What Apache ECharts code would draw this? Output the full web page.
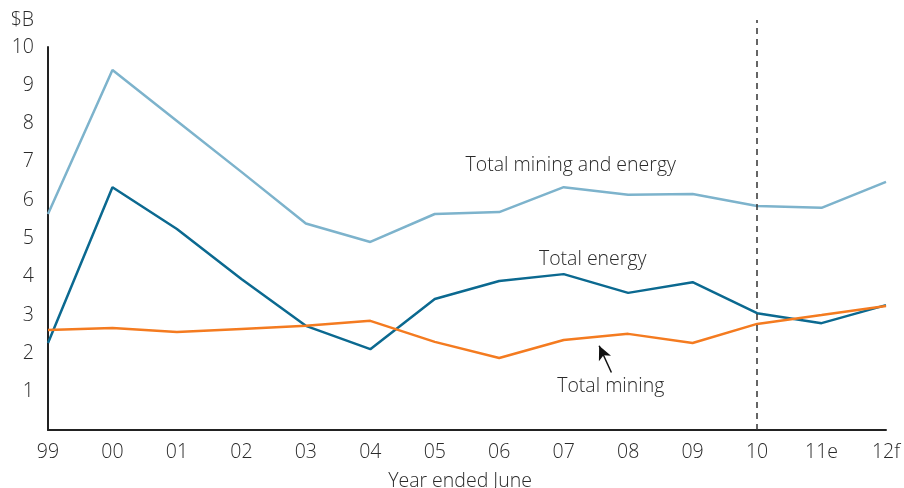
<!DOCTYPE html>
<html><head><meta charset="utf-8">
<script src="https://cdn.jsdelivr.net/npm/echarts@6/dist/echarts.min.js"></script>
<style>html,body{margin:0;padding:0;background:#fff}#c{width:904px;height:488px}</style>
</head><body><div id="c"></div>
<script>
const categories = ['99','00','01','02','03','04','05','06','07','08','09','10','11e','12f'];
const miningAndEnergy = [5.64, 9.40, 8.07, 6.74, 5.39, 4.91, 5.64, 5.69, 6.34, 6.14, 6.16, 5.85, 5.80, 6.48];
const energy = [2.27, 6.34, 5.25, 3.94, 2.72, 2.11, 3.42, 3.89, 4.07, 3.58, 3.86, 3.05, 2.79, 3.26];
const mining = [2.61, 2.66, 2.56, 2.64, 2.72, 2.85, 2.30, 1.88, 2.35, 2.51, 2.27, 2.77, 3.00, 3.24];
const yTicks = [0,1,2,3,4,5,6,7,8,9,10];
const forecastStart = '10';

const font = 'Open Sans';
const fw = 300;
const fs = 19.5;
const txt = '#2a2a2a';
const ts = {fontSize: fs, color: txt, fontFamily: font, fontWeight: fw};
const chart = echarts.init(document.getElementById('c'));
const lbl = (text, coord) => ({coord, value: text, symbol: 'circle', symbolSize: 0,
  label: Object.assign({show: true, formatter: text, position: 'inside'}, ts)});
chart.setOption({
  animation: false,
  grid: [
    {left: 48, right: 18, top: 47, bottom: 58, outerBoundsMode: 'none', containLabel: false},
    {left: 48, right: 18, top: 20, bottom: 58, outerBoundsMode: 'none', containLabel: false}
  ],
  xAxis: [
    {type: 'category', data: categories, boundaryGap: false, gridIndex: 0,
     axisLine: {lineStyle: {color: '#222', width: 2}}, axisTick: {show: false},
     axisLabel: Object.assign({margin: 12}, ts),
     name: 'Year ended June', nameLocation: 'middle', nameGap: 41,
     nameTextStyle: Object.assign({padding: [0, 14, 0, 0]}, ts)},
    {type: 'category', data: categories, boundaryGap: false, gridIndex: 1, show: false},
    {type: 'value', min: 0, max: categories.length - 1, gridIndex: 0, show: false}
  ],
  yAxis: [
    {type: 'value', min: yTicks[0], max: yTicks[yTicks.length - 1], interval: 1, gridIndex: 0,
     axisLine: {show: true, lineStyle: {color: '#222', width: 2}}, axisTick: {show: false},
     splitLine: {show: false},
     axisLabel: Object.assign({margin: 14, formatter: v => v === 0 ? '' : String(v)}, ts),
     name: '$B', nameLocation: 'end', nameGap: 17,
     nameTextStyle: Object.assign({align: 'right', padding: [0, 14, 0, 0]}, ts)},
    {type: 'value', min: 0, max: 1, gridIndex: 1, show: false}
  ],
  series: [
    {type: 'line', data: miningAndEnergy, symbol: 'none', lineStyle: {color: '#7db3cc', width: 2.5}},
    {type: 'line', data: energy, symbol: 'none', lineStyle: {color: '#0b6990', width: 2.5}},
    {type: 'line', data: mining, symbol: 'none', lineStyle: {color: '#f47b20', width: 2.5}},
    {type: 'line', xAxisIndex: 2, yAxisIndex: 0, data: [], symbol: 'none',
     markPoint: {data: [
       lbl('Total mining and energy', [8.11, 6.9]),
       lbl('Total energy', [8.45, 4.46]),
       lbl('Total mining', [8.73, 1.14])
     ]},
     markLine: {silent: true, symbol: ['none', 'arrow'], symbolSize: [10, 14], label: {show: false},
       lineStyle: {color: '#111', width: 1.5, type: 'solid'},
       data: [[{coord: [8.74, 1.5]}, {coord: [8.55, 2.2]}]]}},
    {type: 'line', xAxisIndex: 1, yAxisIndex: 1, data: [], symbol: 'none',
     markLine: {silent: true, symbol: 'none', label: {show: false},
       lineStyle: {color: '#333', width: 1.5, type: [6, 5]},
       data: [{xAxis: forecastStart}]}}
  ]
});
</script></body></html>
